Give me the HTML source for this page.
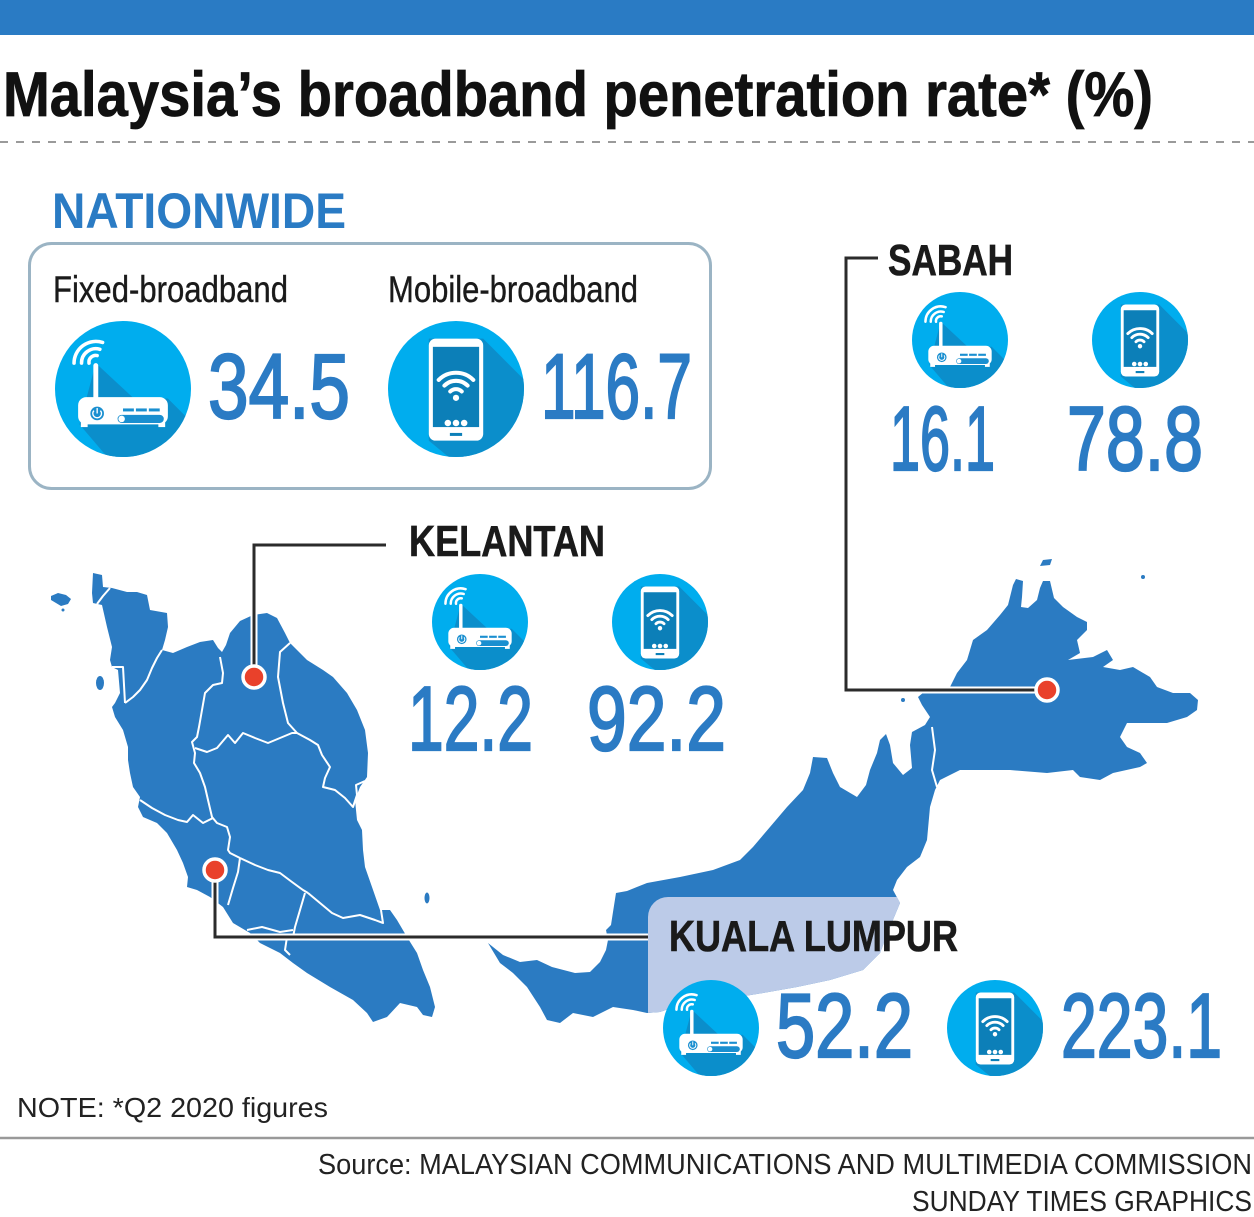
<!DOCTYPE html>
<html><head><meta charset="utf-8"><style>
html,body{margin:0;padding:0;background:#fff;}
svg{display:block;}
text{font-family:"Liberation Sans",Arial,sans-serif;}
</style></head><body>
<svg width="1254" height="1217" viewBox="0 0 1254 1217" xmlns="http://www.w3.org/2000/svg">
<defs>
 <clipPath id="cc"><circle cx="0" cy="0" r="50"/></clipPath>
 <clipPath id="klc"><rect x="648" y="897" width="420" height="220" rx="20"/></clipPath>
 <g id="router">
  <circle r="50" fill="#00adee"/>
  <polygon points="-20,-19 8,7 33,7 140,114 140,160 82,160 -32,26" fill="#0b8ecb" clip-path="url(#cc)"/>
  <rect x="-21.8" y="-19" width="3.6" height="27" rx="1.8" fill="#fff"/>
  <g fill="none" stroke="#fff" stroke-width="2.6" stroke-linecap="round">
   <path d="M-25,-19 A5 5 0 0 1 -19,-24.6"/>
   <path d="M-30.5,-19 A10.5 10.5 0 0 1 -17,-29.2"/>
   <path d="M-36,-19 A16 16 0 0 1 -15,-34.2"/>
  </g>
  <rect x="-33" y="6" width="66" height="20" rx="6" fill="#fff"/>
  <rect x="-31" y="24" width="5" height="4" fill="#fff"/>
  <rect x="26" y="24" width="5" height="4" fill="#fff"/>
  <circle cx="-19" cy="18" r="5" fill="#1a8fd0"/>
  <path d="M-21.4,15.9 A3.2 3.2 0 1 0 -16.6,15.9" stroke="#fff" stroke-width="1" fill="none"/>
  <line x1="-19" y1="14" x2="-19" y2="18" stroke="#fff" stroke-width="1"/>
  <rect x="0" y="14.3" width="8" height="2.2" fill="#1a8fd0"/>
  <rect x="9.5" y="14.3" width="8" height="2.2" fill="#1a8fd0"/>
  <rect x="19" y="14.3" width="8" height="2.2" fill="#1a8fd0"/>
  <rect x="-4" y="19" width="34" height="6" rx="3" fill="#1a8fd0"/>
  <circle cx="-1" cy="22" r="2.4" fill="#fff"/>
 </g>
 <g id="phone">
  <circle r="50" fill="#00adee"/>
  <polygon points="-20,-37 20,-37 140,83 140,170 -20,38" fill="#0b8ecb" clip-path="url(#cc)"/>
  <rect x="-20" y="-37" width="40" height="75" rx="5" fill="#fff"/>
  <rect x="-17" y="-31" width="34" height="59" fill="#0c7fb8"/>
  <g fill="none" stroke="#fff" stroke-width="3" stroke-linecap="round">
   <path d="M-4.2,1.8 A6 6 0 0 1 4.2,1.8"/>
   <path d="M-8.5,-2.5 A12 12 0 0 1 8.5,-2.5"/>
   <path d="M-12.7,-6.7 A18 18 0 0 1 12.7,-6.7"/>
  </g>
  <circle cx="0" cy="6.5" r="2.3" fill="#fff"/>
  <circle cx="-6" cy="25" r="2.4" fill="#fff"/>
  <circle cx="0" cy="25" r="2.4" fill="#fff"/>
  <circle cx="6" cy="25" r="2.4" fill="#fff"/>
  <rect x="-4.5" y="32.3" width="9" height="2.2" fill="#0c7fb8"/>
 </g>
 <polygon id="borneo" points="488,943 503,955 520,962 537,960 552,967 575,973 590,972 600,962 606,950 608,940 606,930 611,925 613,912 616,893 627,891 647,883 680,877 713,870 740,860 753,847 770,827 787,807 803,790 810,773 813,757 827,758 833,773 840,787 857,797 866,785 870,770 877,753 880,740 886,734 890,745 893,763 903,775 912,768 910,745 912,732 925,725 930,717 922,705 918,697 930,687 950,687 957,673 967,660 973,640 987,630 1000,615 1008,605 1013,585 1016,579 1023,581 1022,597 1021,607 1028,608 1037,600 1040,588 1043,581 1050,581 1054,598 1063,607 1077,617 1087,622 1087,630 1077,640 1080,653 1068,660 1093,657 1107,650 1113,660 1103,667 1120,670 1133,667 1150,677 1157,687 1173,693 1190,693 1198,700 1197,710 1187,717 1167,723 1153,723 1127,723 1120,737 1127,747 1140,753 1147,763 1140,767 1113,773 1100,780 1080,777 1073,770 1047,773 1010,770 977,770 960,770 940,780 935,790 930,807 927,840 920,857 907,867 897,880 893,890 900,903 890,927 880,953 863,970 830,980 797,987 763,993 720,1000 680,1005 660,1012 647,1013 633,1010 613,1007 593,1017 573,1013 560,1023 547,1020 540,1007 527,987 513,973 500,963"/>
</defs>

<!-- top bar -->
<rect x="0" y="0" width="1254" height="35" fill="#2a7bc4"/>

<!-- title -->
<text x="3" y="116" font-size="63" font-weight="bold" fill="#111" stroke="#111" stroke-width="0.8" textLength="1150" lengthAdjust="spacingAndGlyphs">Malaysia’s broadband penetration rate* (%)</text>
<line x1="0" y1="142" x2="1254" y2="142" stroke="#9a9a9a" stroke-width="2" stroke-dasharray="8,8"/>

<!-- nationwide -->
<text x="52" y="228" font-size="50" font-weight="bold" fill="#2a7bc4" textLength="294" lengthAdjust="spacingAndGlyphs">NATIONWIDE</text>
<rect x="29.5" y="243.5" width="681" height="245" rx="22" fill="none" stroke="#9bb4c4" stroke-width="3"/>
<text x="53" y="302" font-size="37" fill="#1a1a1a" stroke="#1a1a1a" stroke-width="0.4" textLength="235" lengthAdjust="spacingAndGlyphs">Fixed-broadband</text>
<text x="388" y="302" font-size="37" fill="#1a1a1a" stroke="#1a1a1a" stroke-width="0.4" textLength="250" lengthAdjust="spacingAndGlyphs">Mobile-broadband</text>
<use href="#router" transform="translate(123,389) scale(1.36)"/>
<use href="#phone" transform="translate(456,389) scale(1.36)"/>
<g font-size="92" fill="#2b7bc4" stroke="#2b7bc4" stroke-width="2.2">
<text x="208" y="418" textLength="142" lengthAdjust="spacingAndGlyphs">34.5</text>
<text x="541" y="418" textLength="151" lengthAdjust="spacingAndGlyphs">116.7</text>
</g>

<!-- map -->
<g fill="#2b7bc2">
<polygon points="93,573 102,575 103,587 112,588 127,592 137,592 147,595 150,610 167,613 168,627 165,640 162,650 173,653 187,647 200,642 213,640 218,648 222,652 226,645 230,633 240,621 253,615 267,613 277,618 285,633 290,643 307,660 323,670 333,677 347,693 357,710 365,730 368,753 367,777 360,787 355,800 357,820 362,830 363,850 365,867 372,887 380,910 390,910 397,920 407,937 417,953 423,970 430,987 435,1007 432,1017 423,1015 417,1007 400,1003 387,1017 373,1022 367,1013 353,1000 330,987 307,973 293,963 280,953 260,943 250,933 233,923 223,907 210,897 197,890 187,887 188,877 183,863 177,850 167,833 157,823 143,817 138,807 140,797 133,787 130,773 128,760 128,747 123,730 115,717 112,707 115,703 120,693 118,670 112,667 110,660 112,647 107,627 102,605 93,603 92,593"/>
<polygon points="51,596 58,593 66,595 71,599 68,604 61,606 56,603 51,600"/>
<circle cx="63" cy="610" r="1.5"/>
<ellipse cx="100" cy="683" rx="4" ry="7"/>
<ellipse cx="427" cy="898" rx="2.5" ry="5.5"/>
<use href="#borneo"/>
<polygon points="1040,566 1043,560 1052,559 1050,565"/>
<circle cx="1143" cy="577" r="2"/>
<circle cx="903" cy="700" r="2"/>
</g>
<!-- state borders -->
<g fill="none" stroke="#fff" stroke-width="2" stroke-linejoin="round">
<polyline points="97,604 103,596 110,588"/>
<polyline points="112,667 123,667 125,703"/>
<polyline points="125,703 133,697 140,690 147,680 152,668 157,658 162,650"/>
<polyline points="220,657 223,673 222,683 213,685 205,693 202,710 199,727 197,737 192,742 195,753 194,763 200,773 205,787 208,800 212,817 217,823 227,827 230,837 228,850 230,853 240,858"/>
<polyline points="195,748 207,752 217,748 228,735 235,743 243,733 255,738 268,743 280,738 292,733 297,733"/>
<polyline points="290,643 280,652 278,677 283,703 288,723 297,733"/>
<polyline points="297,733 310,740 318,745 322,755 330,767 325,778 323,787 335,790 345,798 353,807 357,795 356,785 365,781"/>
<polyline points="140,800 152,808 165,815 178,820 187,822 193,815 203,823 213,818"/>
<polyline points="240,858 255,865 268,870 280,873 292,882 303,890 308,893"/>
<polyline points="308,893 320,903 332,913 343,918 360,915 375,920 383,923 381,910"/>
<polyline points="305,893 300,910 295,927 293,937"/>
<polyline points="240,858 238,872 233,888 228,905"/>
<polyline points="247,930 262,927 280,932 293,930"/>
<polyline points="287,937 285,950 290,955"/>
<polyline points="932,727 935,750 932,770 937,787"/>
</g>

<!-- KL highlight -->
<use href="#borneo" fill="#bccbe8" clip-path="url(#klc)"/>

<!-- leader lines -->
<g fill="none" stroke-linecap="butt">
<polyline points="254,667 254,545 386,545" stroke="#fff" stroke-width="7"/>
<polyline points="254,667 254,545 386,545" stroke="#2b2b2b" stroke-width="3"/>
<polyline points="215,880 215,937 648,937" stroke="#fff" stroke-width="7"/>
<polyline points="215,880 215,937 648,937" stroke="#2b2b2b" stroke-width="3"/>
<polyline points="878,258 846,258 846,690 1036,690" stroke="#fff" stroke-width="7"/>
<polyline points="878,258 846,258 846,690 1036,690" stroke="#2b2b2b" stroke-width="3"/>
</g>
<g fill="#e9412b" stroke="#fff" stroke-width="3.5">
<circle cx="254" cy="677" r="11"/>
<circle cx="215" cy="870" r="11"/>
<circle cx="1047" cy="690" r="11"/>
</g>

<!-- Kelantan -->
<text x="409" y="556" font-size="44" font-weight="bold" fill="#1a1a1a" stroke="#1a1a1a" stroke-width="0.6" textLength="196" lengthAdjust="spacingAndGlyphs">KELANTAN</text>
<use href="#router" transform="translate(480,622) scale(0.96)"/>
<use href="#phone" transform="translate(660,622) scale(0.96)"/>

<!-- Sabah -->
<text x="888" y="275" font-size="44" font-weight="bold" fill="#1a1a1a" stroke="#1a1a1a" stroke-width="0.6" textLength="125" lengthAdjust="spacingAndGlyphs">SABAH</text>
<use href="#router" transform="translate(960,340) scale(0.96)"/>
<use href="#phone" transform="translate(1140,340) scale(0.96)"/>

<!-- KL -->
<text x="669" y="951" font-size="44" font-weight="bold" fill="#1a1a1a" stroke="#1a1a1a" stroke-width="0.6" textLength="289" lengthAdjust="spacingAndGlyphs">KUALA LUMPUR</text>
<use href="#router" transform="translate(711,1028) scale(0.96)"/>
<use href="#phone" transform="translate(995,1028) scale(0.96)"/>

<g font-size="91" fill="#2b7bc4" stroke="#2b7bc4" stroke-width="2.2">
<text x="408" y="750" textLength="125" lengthAdjust="spacingAndGlyphs">12.2</text>
<text x="587" y="750" textLength="139" lengthAdjust="spacingAndGlyphs">92.2</text>
<text x="890" y="470" textLength="105" lengthAdjust="spacingAndGlyphs">16.1</text>
<text x="1067" y="470" textLength="136" lengthAdjust="spacingAndGlyphs">78.8</text>
<text x="776" y="1057" textLength="137" lengthAdjust="spacingAndGlyphs">52.2</text>
<text x="1061" y="1057" textLength="161" lengthAdjust="spacingAndGlyphs">223.1</text>
</g>

<!-- footer -->
<text x="17" y="1117" font-size="28" fill="#222" textLength="311" lengthAdjust="spacingAndGlyphs">NOTE: *Q2 2020 figures</text>
<line x1="0" y1="1138" x2="1254" y2="1138" stroke="#999" stroke-width="2.5"/>
<text x="318" y="1174" font-size="29" fill="#222" textLength="934" lengthAdjust="spacingAndGlyphs">Source: MALAYSIAN COMMUNICATIONS AND MULTIMEDIA COMMISSION</text>
<text x="912" y="1211" font-size="29" fill="#222" textLength="340" lengthAdjust="spacingAndGlyphs">SUNDAY TIMES GRAPHICS</text>
</svg>
</body></html>
